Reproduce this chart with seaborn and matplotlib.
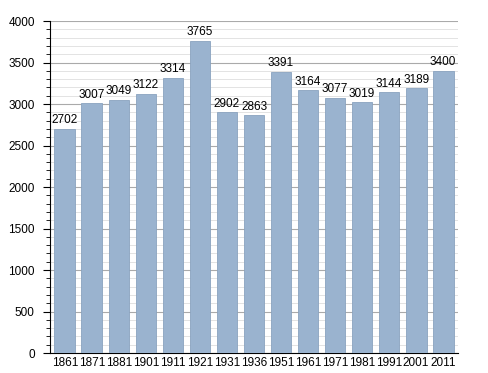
import numpy as np
import pandas as pd
import seaborn as sns
import matplotlib.pyplot as plt
from matplotlib.ticker import MultipleLocator

years = ["1861", "1871", "1881", "1901", "1911", "1921", "1931", "1936",
         "1951", "1961", "1971", "1981", "1991", "2001", "2011"]
population = [2702, 3007, 3049, 3122, 3314, 3765, 2902, 2863,
              3391, 3164, 3077, 3019, 3144, 3189, 3400]

df = pd.DataFrame({"year": years, "pop": population})

sns.set_style("white")
plt.rcParams['font.family'] = ['Liberation Sans', 'DejaVu Sans']
plt.rcParams['text.color'] = 'black'
plt.rcParams['xtick.color'] = 'black'
plt.rcParams['ytick.color'] = 'black'

fig = plt.figure(figsize=(4.88, 3.73), dpi=100)
ax = fig.add_axes([0.1025, 0.0536, 0.836, 0.89])

sns.barplot(data=df, x="year", y="pop", color="#9ab3cf", saturation=1,
            width=0.77, edgecolor="#8aa3bf", linewidth=0.6, ax=ax, zorder=3)

ax.set_ylim(0, 4000)
ax.set_xlim(-0.55, len(years) - 0.45)
ax.yaxis.set_major_locator(MultipleLocator(500))
ax.yaxis.set_minor_locator(MultipleLocator(100))
ax.grid(axis="y", which="major", color="#aaaaaa", linewidth=0.8, zorder=0)
ax.grid(axis="y", which="minor", color="#e3e3e3", linewidth=0.7, zorder=0)
ax.set_axisbelow(True)

for s in ["top", "right"]:
    ax.spines[s].set_visible(False)
ax.spines["left"].set_color("black")
ax.spines["bottom"].set_color("black")
ax.tick_params(axis="y", which="major", length=5, width=0.8, labelsize=8.5, left=True, pad=6)
ax.tick_params(axis="y", which="minor", length=3, width=0.6, left=True)
ax.tick_params(axis="x", length=0, labelsize=8.5, pad=3)
ax.set_xlabel("")
ax.set_ylabel("")

for i, v in enumerate(population):
    ax.text(i, v + 30, str(v), ha="center", va="bottom", fontsize=8.5)

fig.savefig("out.png", dpi=100)
